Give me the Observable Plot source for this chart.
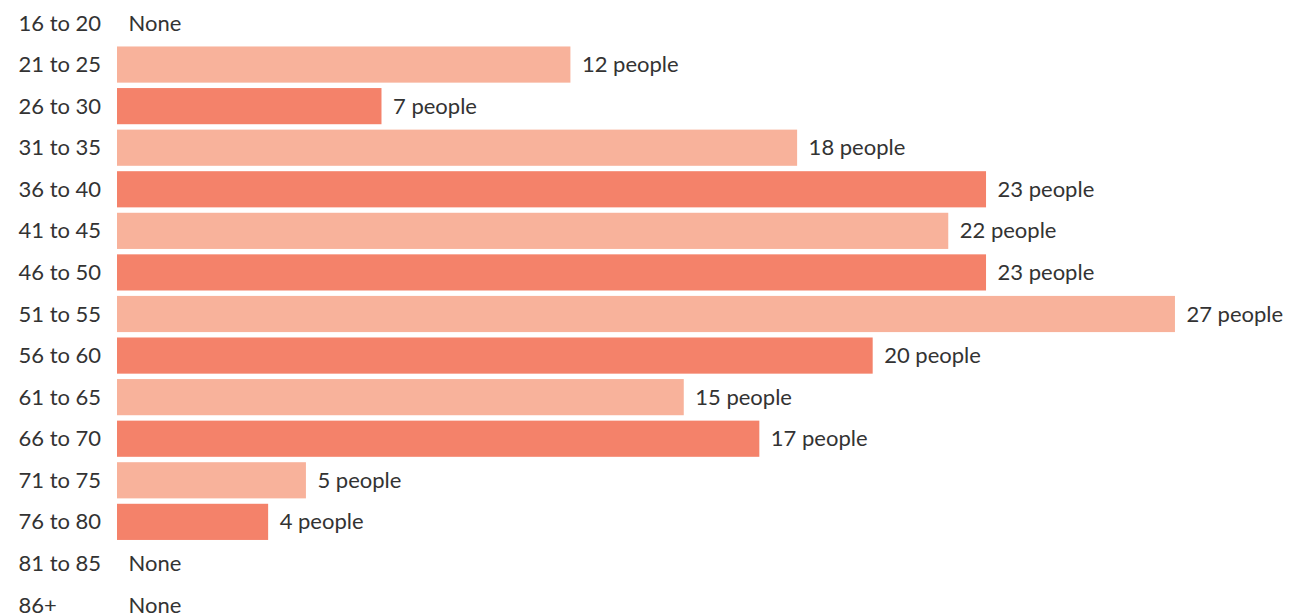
<!DOCTYPE html>
<html>
<head>
<meta charset="utf-8">
<script src="https://cdn.jsdelivr.net/npm/d3@7"></script>
<script src="https://cdn.jsdelivr.net/npm/@observablehq/plot@0.6"></script>
<style>
  html, body { margin: 0; padding: 0; background: #fff; overflow: hidden; }
  #chart svg { display: block; }
</style>
</head>
<body>
<div id="chart"></div>
<script>
// Age groups (categories)
const ageGroups = ["16 to 20","21 to 25","26 to 30","31 to 35","36 to 40","41 to 45","46 to 50","51 to 55","56 to 60","61 to 65","66 to 70","71 to 75","76 to 80","81 to 85","86+"];
// Counts as printed in the labels
const people = [0,12,7,18,23,22,23,27,20,15,17,5,4,0,0];
// Bar lengths as drawn (the 51 to 55 bar is drawn one unit longer than its label)
const barLengths = [0,12,7,18,23,22,23,28,20,15,17,5,4,0,0];
const colors = ["#f8b29b", "#f4826a"];

const rows = ageGroups.map((g, i) => ({
  group: g,
  count: people[i],
  len: barLengths[i],
  shade: i % 2 === 0 ? "dark" : "light",
  label: people[i] === 0 ? "None" : `${people[i]} people`
}));
const bars = rows.filter(d => d.len > 0);
const grid = bars.flatMap(d => d3.range(1, d.len).map(k => ({group: d.group, x: k})));

const chart = Plot.plot({
  width: 1297,
  height: 628,
  marginLeft: 117,
  marginRight: 0,
  marginTop: 0,
  marginBottom: 0,
  style: {fontFamily: "Lato, sans-serif", fontSize: "22px", color: "#333"},
  x: {domain: [0, 31.23], axis: null},
  y: {domain: ageGroups, padding: 0.13, paddingOuter: 0.118, align: 0.5, round: false, axis: null},
  color: {domain: ["light", "dark"], range: colors},
  marks: [
    Plot.ruleX(grid, {x: "x", y: "group", stroke: "#fbe3dc", strokeWidth: 1, insetTop: -3, insetBottom: -3}),
    Plot.barX(bars, {x: "len", y: "group", fill: "shade"}),
    Plot.text(rows, {y: "group", text: "group", frameAnchor: "left", textAnchor: "start", dx: -99, fill: "#333", fontSize: 22}),
    Plot.text(rows, {x: "len", y: "group", text: "label", textAnchor: "start", dx: 11, fill: "#333", fontSize: 22})
  ]
});
document.getElementById("chart").append(chart);
</script>
</body>
</html>
